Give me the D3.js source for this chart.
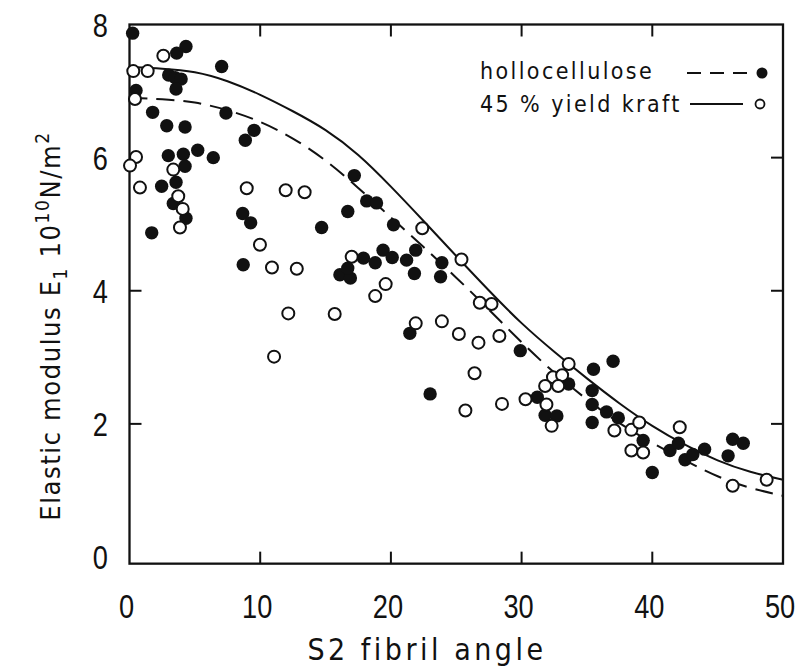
<!DOCTYPE html>
<html>
<head>
<meta charset="utf-8">
<script src="https://cdn.jsdelivr.net/npm/d3@7/dist/d3.min.js"></script>
<style>
    body { margin: 0; background: #fff; }
    #chart-area { width: 796px; height: 670px; }
    text { font-family: "DejaVu Sans Condensed", "DejaVu Sans", sans-serif; fill: #111; }
    .tick-label { font-family: "Liberation Sans", Arial, sans-serif; }
</style>
</head>
<body>
<div id="chart-area"></div>
<script>

// hollocellulose (filled dots)
const holloAngle = [0.24, 4.32, 3.61, 7.05, 3.0, 3.5, 3.95, 3.56, 0.5, 1.77, 7.38, 2.85, 4.25, 9.53, 8.86,
    2.97, 4.12, 5.22, 6.41, 4.25, 3.56, 2.46, 3.35, 4.32, 1.7, 8.66, 9.27, 16.7, 14.7, 17.2, 18.15, 18.9,
    20.2, 8.7, 17.9, 18.8, 19.4, 20.1, 16.1, 16.9, 16.7, 21.2, 21.9, 21.8, 23.9, 23.8, 21.45, 23.0, 29.9,
    33.6, 31.2, 31.8, 32.7, 35.5, 37.0, 35.4, 35.4, 35.4, 36.5, 37.4, 39.3, 40.0, 41.35, 42.0, 42.5, 43.1,
    44.0, 45.8, 46.15, 46.96];
const holloModulus = [7.87, 7.67, 7.57, 7.37, 7.24, 7.2, 7.18, 7.03, 7.01, 6.68, 6.67, 6.48, 6.46, 6.41, 6.26,
    6.03, 6.05, 6.11, 6.0, 5.87, 5.63, 5.57, 5.31, 5.09, 4.87, 5.16, 5.02, 5.19, 4.95, 5.73, 5.35, 5.32,
    4.99, 4.39, 4.49, 4.42, 4.61, 4.5, 4.24, 4.19, 4.34, 4.46, 4.61, 4.26, 4.42, 4.21, 3.36, 2.45, 3.1,
    2.6, 2.4, 2.13, 2.12, 2.82, 2.94, 2.5, 2.29, 2.02, 2.18, 2.09, 1.75, 1.27, 1.6, 1.71, 1.46, 1.54,
    1.62, 1.52, 1.77, 1.71];

// 45% yield kraft (open dots)
const kraftAngle = [2.59, 0.29, 1.39, 0.42, 0.5, 0.04, 0.8, 3.35, 3.73, 4.07, 3.86, 8.97, 11.95, 13.4, 9.98,
    10.9, 12.8, 17.0, 19.6, 18.8, 12.15, 15.7, 11.06, 22.4, 25.4, 21.9, 23.9, 25.2, 26.7, 28.3, 26.8, 27.7,
    26.4, 25.7, 28.5, 30.3, 33.6, 32.4, 33.1, 31.8, 32.8, 31.9, 32.3, 37.1, 38.4, 39.0, 38.4, 39.3, 42.1,
    46.15, 48.75];
const kraftModulus = [7.53, 7.3, 7.3, 6.88, 6.01, 5.88, 5.55, 5.82, 5.42, 5.23, 4.95, 5.54, 5.51, 5.48, 4.69,
    4.35, 4.33, 4.51, 4.1, 3.92, 3.66, 3.65, 3.01, 4.94, 4.47, 3.51, 3.54, 3.35, 3.22, 3.32, 3.82, 3.8,
    2.76, 2.2, 2.3, 2.37, 2.9, 2.7, 2.73, 2.57, 2.57, 2.29, 1.97, 1.9, 1.91, 2.02, 1.6, 1.57, 1.95,
    1.07, 1.16];

// fitted curves
const curveAngle = [0, 2.5, 5, 7.5, 10, 12.5, 15, 17.5, 20, 22.5, 25, 27.5, 30, 32.5, 35, 37.5, 40, 42.5, 45, 47.5, 50];
const holloCurve = [6.9, 6.88, 6.84, 6.72, 6.55, 6.3, 5.97, 5.55, 5.1, 4.66, 4.2, 3.72, 3.22, 2.76, 2.36, 2.0, 1.71, 1.45, 1.2, 1.03, 0.92];
const kraftCurve = [7.36, 7.34, 7.3, 7.16, 6.95, 6.7, 6.43, 6.06, 5.57, 5.05, 4.52, 4.0, 3.5, 3.08, 2.68, 2.3, 1.96, 1.68, 1.44, 1.27, 1.16];

const xTicks = [0, 10, 20, 30, 40, 50];
const yTicks = [0, 2, 4, 6, 8];

const legendLabels = ["hollocellulose", "45 % yield kraft"];


class FibrilVis {

    constructor(parentElement) {
        this.parentElement = parentElement;
        this.initVis();
    }

    initVis() {
        let vis = this;

        vis.width = 796;
        vis.height = 670;

        vis.svg = d3.select("#" + vis.parentElement).append("svg")
            .attr("width", vis.width)
            .attr("height", vis.height);

        vis.x = d3.scaleLinear().domain([0, 50]).range([129.5, 783]);
        vis.y = d3.scaleLinear().domain([0, 8]).range([557, 24.5]);

        // frame runs a little below zero, like the print
        let left = vis.x(0), right = vis.x(50), top = vis.y(8), bottom = vis.y(-0.1);

        vis.svg.append("rect")
            .attr("x", left)
            .attr("y", top)
            .attr("width", right - left)
            .attr("height", bottom - top)
            .attr("fill", "none")
            .attr("stroke", "#111")
            .attr("stroke-width", 2.3);

        // inward ticks on all four sides
        let inner = xTicks.filter(d => d > 0 && d < 50);
        vis.svg.selectAll(".xtick-b").data(inner).enter().append("line")
            .attr("x1", d => vis.x(d)).attr("x2", d => vis.x(d))
            .attr("y1", bottom).attr("y2", bottom - 12)
            .attr("stroke", "#111").attr("stroke-width", 2);
        vis.svg.selectAll(".xtick-t").data(inner).enter().append("line")
            .attr("x1", d => vis.x(d)).attr("x2", d => vis.x(d))
            .attr("y1", top).attr("y2", top + 12)
            .attr("stroke", "#111").attr("stroke-width", 2);

        let innerY = yTicks.filter(d => d > 0 && d < 8);
        vis.svg.selectAll(".ytick-l").data(innerY).enter().append("line")
            .attr("x1", left).attr("x2", left + 12)
            .attr("y1", d => vis.y(d)).attr("y2", d => vis.y(d))
            .attr("stroke", "#111").attr("stroke-width", 2);
        vis.svg.selectAll(".ytick-r").data(innerY).enter().append("line")
            .attr("x1", right).attr("x2", right - 12)
            .attr("y1", d => vis.y(d)).attr("y2", d => vis.y(d))
            .attr("stroke", "#111").attr("stroke-width", 2);

        // tick labels: tall narrow digits like the print (bottom row sits a few px left)
        vis.svg.selectAll(".xlab").data(xTicks).enter().append("text")
            .attr("class", "tick-label")
            .attr("transform", d => `translate(${vis.x(d) - 3},618) scale(0.8,1)`)
            .attr("text-anchor", "middle")
            .style("font-size", "34px")
            .text(d => d);

        vis.svg.selectAll(".ylab").data(yTicks).enter().append("text")
            .attr("class", "tick-label")
            .attr("transform", d => `translate(108,${vis.y(d) + 12}) scale(0.8,1)`)
            .attr("text-anchor", "end")
            .style("font-size", "34px")
            .text(d => d);

        // axis titles
        vis.svg.append("text")
            .attr("x", 427)
            .attr("y", 660)
            .attr("text-anchor", "middle")
            .style("font-size", "30px")
            .style("letter-spacing", "3.5px")
            .text("S2 fibril angle");

        let yTitle = vis.svg.append("text")
            .attr("transform", "translate(60,326) rotate(-90)")
            .attr("text-anchor", "middle")
            .style("font-size", "27px")
            .style("letter-spacing", "1.6px");
        yTitle.append("tspan").text("Elastic modulus E");
        yTitle.append("tspan").attr("dy", 7).style("font-size", "19px").text("1");
        yTitle.append("tspan").attr("dy", -7).text(" 10");
        yTitle.append("tspan").attr("dy", -11).style("font-size", "19px").text("10");
        yTitle.append("tspan").attr("dy", 11).text("N/m");
        yTitle.append("tspan").attr("dy", -11).style("font-size", "19px").text("2");

        vis.line = d3.line()
            .x(d => vis.x(d[0]))
            .y(d => vis.y(d[1]))
            .curve(d3.curveBasis);

        vis.wrangleData();
    }

    wrangleData() {
        let vis = this;

        vis.hollo = holloAngle.map((a, i) => [a, holloModulus[i]]);
        vis.kraft = kraftAngle.map((a, i) => [a, kraftModulus[i]]);
        vis.holloFit = curveAngle.map((a, i) => [a, holloCurve[i]]);
        vis.kraftFit = curveAngle.map((a, i) => [a, kraftCurve[i]]);

        vis.updateVis();
    }

    updateVis() {
        let vis = this;

        vis.svg.append("path")
            .datum(vis.holloFit)
            .attr("d", vis.line)
            .attr("fill", "none")
            .attr("stroke", "#111")
            .attr("stroke-width", 2)
            .attr("stroke-dasharray", "18,9");

        vis.svg.append("path")
            .datum(vis.kraftFit)
            .attr("d", vis.line)
            .attr("fill", "none")
            .attr("stroke", "#111")
            .attr("stroke-width", 2);

        vis.svg.selectAll(".hollo")
            .data(vis.hollo)
            .enter()
            .append("circle")
            .attr("class", "hollo")
            .attr("cx", d => vis.x(d[0]))
            .attr("cy", d => vis.y(d[1]))
            .attr("r", 6.7)
            .attr("fill", "#111");

        vis.svg.selectAll(".kraft")
            .data(vis.kraft)
            .enter()
            .append("circle")
            .attr("class", "kraft")
            .attr("cx", d => vis.x(d[0]))
            .attr("cy", d => vis.y(d[1]))
            .attr("r", 6)
            .attr("fill", "#fff")
            .attr("stroke", "#111")
            .attr("stroke-width", 2);

        // legend
        let legend = vis.svg.append("g").attr("class", "legend");

        legend.selectAll("text")
            .data(legendLabels)
            .enter()
            .append("text")
            .attr("x", 480)
            .attr("y", (d, i) => 79 + i * 33)
            .style("font-size", "23px")
            .style("letter-spacing", "2.4px")
            .text(d => d);

        legend.append("line")
            .attr("x1", 687).attr("x2", 747)
            .attr("y1", 73).attr("y2", 73)
            .attr("stroke", "#111").attr("stroke-width", 2)
            .attr("stroke-dasharray", "14,9");
        legend.append("circle")
            .attr("cx", 762).attr("cy", 73).attr("r", 5.5)
            .attr("fill", "#111");

        legend.append("line")
            .attr("x1", 690).attr("x2", 743)
            .attr("y1", 104).attr("y2", 104)
            .attr("stroke", "#111").attr("stroke-width", 2);
        legend.append("circle")
            .attr("cx", 760).attr("cy", 104).attr("r", 4.5)
            .attr("fill", "#fff")
            .attr("stroke", "#111").attr("stroke-width", 1.8);
    }
}

new FibrilVis("chart-area");

</script>
</body>
</html>
